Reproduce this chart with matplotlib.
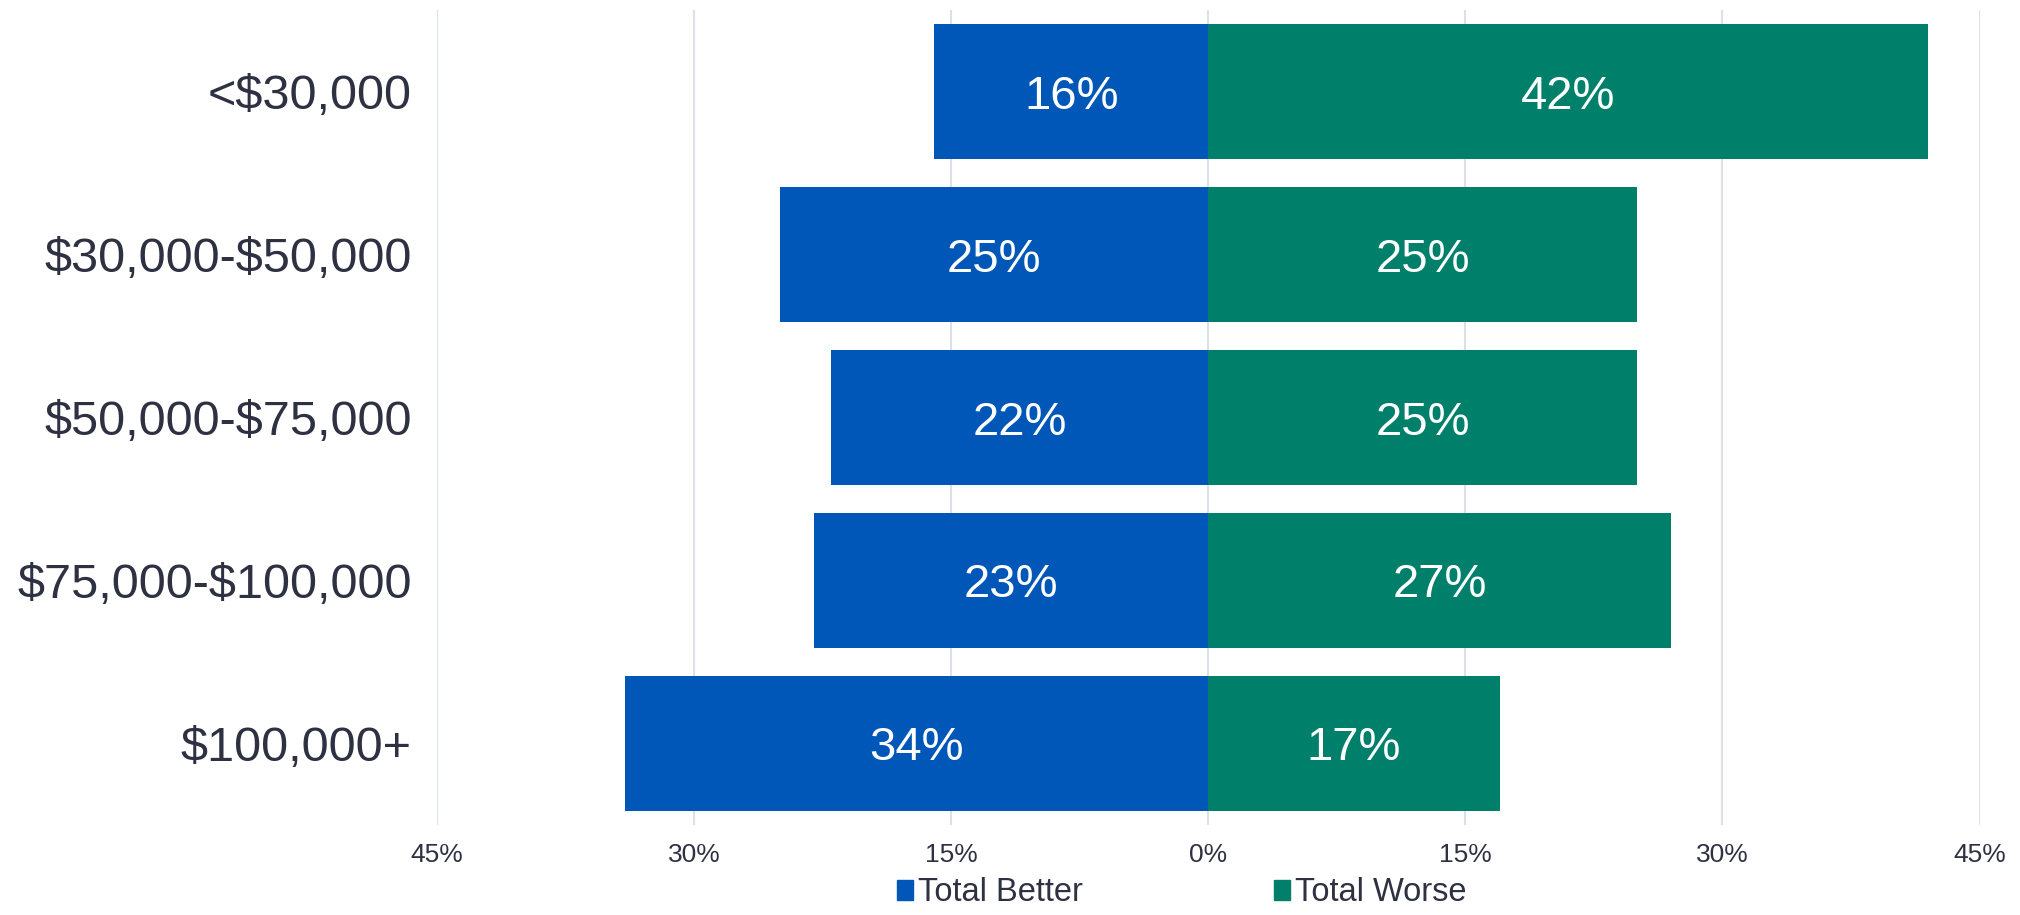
import numpy as np
import matplotlib
matplotlib.use("Agg")
import matplotlib.pyplot as plt
from matplotlib.ticker import FuncFormatter
from matplotlib.patches import Patch

plt.rcParams['font.family'] = ['Liberation Sans', 'DejaVu Sans']

# data
categories = ["<$30,000", "$30,000-$50,000", "$50,000-$75,000", "$75,000-$100,000", "$100,000+"]
better = [16, 25, 22, 23, 34]
worse = [42, 25, 25, 27, 17]
ticks = [-45, -30, -15, 0, 15, 30, 45]

blue = "#0057B8"
green = "#00806B"
txt = "#2E3142"

fig = plt.figure(figsize=(20.2, 9.15), dpi=100)
ax = fig.add_axes([0.2163, 0.0984, 0.7637, 0.8906])

y = np.arange(len(categories))
b1 = ax.barh(y, [-v for v in better], height=0.83, color=blue, zorder=3)
b2 = ax.barh(y, worse, height=0.83, color=green, zorder=3)

for i in range(len(categories)):
    ax.text(-better[i] / 2, y[i], "%d%%" % better[i], ha='center', va='center_baseline',
            color='white', fontsize=34, zorder=4)
    ax.text(worse[i] / 2, y[i], "%d%%" % worse[i], ha='center', va='center_baseline',
            color='white', fontsize=34, zorder=4)

ax.set_xlim(-45, 45)
ax.set_ylim(4.5, -0.5)
ax.set_xticks(ticks)
ax.xaxis.set_major_formatter(FuncFormatter(lambda v, p: "%d%%" % abs(v)))
ax.set_yticks(y)
# escape $ so matplotlib doesn't read mathtext
ax.set_yticklabels([c.replace("$", r"\$") for c in categories])
ax.tick_params(axis='y', length=0, pad=18, labelsize=35, labelcolor=txt)
ax.tick_params(axis='x', length=0, pad=13, labelsize=19, labelcolor=txt)
ax.grid(axis='x', color="#DCE0E8", linewidth=1.5, zorder=0)
for s in ax.spines.values():
    s.set_visible(False)

handles = [Patch(color=blue, label="Total Better"), Patch(color=green, label="Total Worse")]
fig.legend(handles=handles, loc='lower center', bbox_to_anchor=(0.585, 0.0), ncol=2,
           frameon=False, fontsize=23.5, labelcolor=txt, handlelength=0.5,
           handleheight=0.6, handletextpad=0.15, columnspacing=5.85,
           borderpad=0.1, borderaxespad=0.1)

fig.savefig("out.png", dpi=100)
